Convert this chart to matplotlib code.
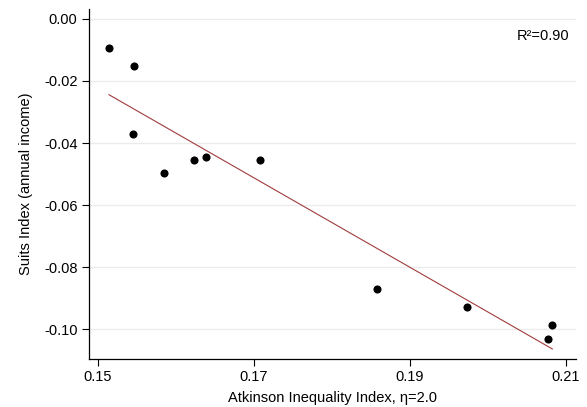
import numpy as np
import matplotlib
matplotlib.use("Agg")
import matplotlib.pyplot as plt

plt.rcParams['font.family'] = ['Liberation Sans', 'DejaVu Sans']

# Atkinson index (eta=2.0) and Suits index (annual income)
atkinson = [0.1514, 0.1546, 0.1545, 0.1584, 0.1623, 0.1638, 0.1708,
            0.1858, 0.1974, 0.2083, 0.2078]
suits = [-0.0094, -0.0151, -0.0372, -0.0496, -0.0455, -0.0444, -0.0455,
         -0.0870, -0.0929, -0.0986, -0.1030]
x_ticks = [0.15, 0.17, 0.19, 0.21]
y_ticks = [0.00, -0.02, -0.04, -0.06, -0.08, -0.10]
r2_label = "R\u00b2=0.90"

x = np.array(atkinson)
y = np.array(suits)
b, a = np.polyfit(x, y, 1)
xf = np.array([x.min(), x.max()])

fig = plt.figure(figsize=(5.87, 4.07), dpi=100)
ax = fig.add_axes([88.7 / 587, 48 / 407, 487 / 587, 350 / 407])

ax.grid(axis='y', color='#ececec', linewidth=1.0)
ax.set_axisbelow(True)
ax.plot(xf, a + b * xf, color='#a03c3c', linewidth=0.8)
ax.scatter(x, y, s=34, color='black', zorder=3, linewidths=0)

ax.set_xlim(0.1488, 0.2113)
ax.set_ylim(-0.1096, 0.0032)
ax.set_xticks(x_ticks)
ax.set_xticklabels([f"{t:.2f}" for t in x_ticks])
ax.set_yticks(y_ticks)
ax.set_yticklabels([f"{t:.2f}" for t in y_ticks])
ax.tick_params(direction='out', length=5, width=0.8, labelsize=10.5, pad=3)

for s in ['top', 'right']:
    ax.spines[s].set_visible(False)
for s in ['left', 'bottom']:
    ax.spines[s].set_linewidth(0.9)

ax.set_xlabel("Atkinson Inequality Index, \u03b7=2.0", fontsize=10.5, labelpad=5)
ax.set_ylabel("Suits Index (annual income)", fontsize=10.5, labelpad=8)
ax.text(0.986, 0.924, r2_label, transform=ax.transAxes, ha='right', va='center',
        fontsize=10.5)

fig.savefig("out.png", dpi=100)
